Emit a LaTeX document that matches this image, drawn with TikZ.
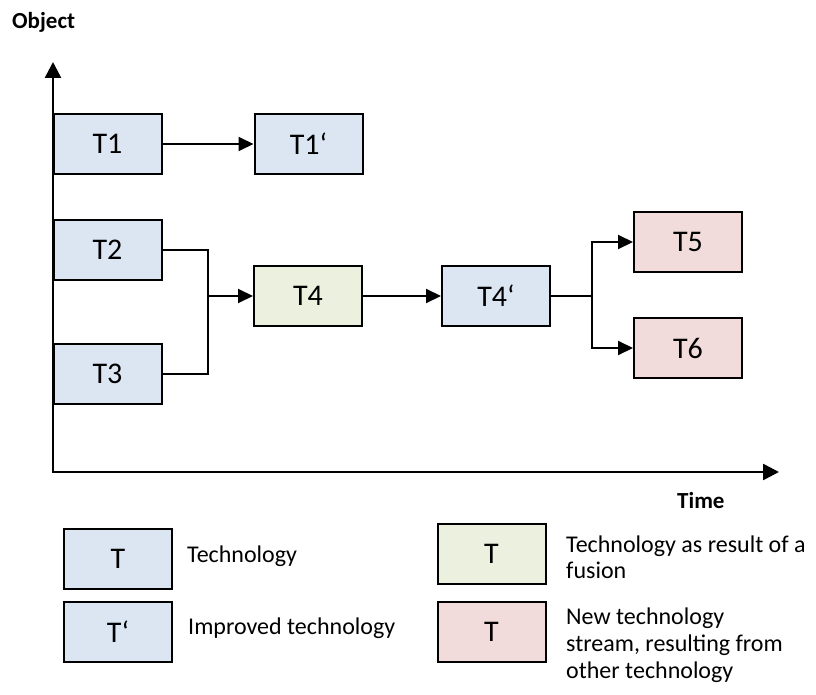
\documentclass[tikz,border=0pt]{standalone}
\usepackage{fontspec}
\setmainfont{Carlito}
\usepackage{tikz}
\usetikzlibrary{positioning,arrows.meta}
\definecolor{techblue}{HTML}{DCE6F2}
\definecolor{fusiongreen}{HTML}{EBF1DE}
\definecolor{newpink}{HTML}{F2DCDB}

\begin{document}
\begin{tikzpicture}[x=1pt,y=-1pt,node distance=100pt,on grid,
    tech/.style={draw,line width=2pt,minimum width=108pt,minimum height=60pt,
        font=\fontsize{30}{34}\selectfont},
    old/.style={tech,fill=techblue},
    fused/.style={tech,fill=fusiongreen},
    spin/.style={tech,fill=newpink},
    link/.style={line width=2pt},
    flow/.style={link,-{Triangle[length=15pt,width=14pt]}},
    axisline/.style={line width=2.5pt,{Triangle[length=16pt,width=16pt]}-{Triangle[length=16pt,width=16pt]}},
    lbl/.style={inner sep=0pt,anchor=base west,align=left,font=\fontsize{24}{26.7}\selectfont},
    axislbl/.style={lbl,font=\bfseries\fontsize{23}{27}\selectfont}]
    \useasboundingbox (0,0) rectangle (816,695);
    \coordinate (origin) at (53,472);
    \coordinate (ytop) at (53,62);
    \coordinate (xend) at (779,472);
    \draw[axisline] (ytop) -- (origin) -- (xend);
    \node[axislbl] (objectlbl) at (12,29) {Object};
    \node[axislbl] (timelbl) at (677,508) {Time};
    \node[old] (t1) at (107.5,144) {T1};
    \node[old] (t1p) [right=201pt of t1] {T1‘};
    \node[old] (t2) [below=106pt of t1] {T2};
    \node[old] (t3) [below=124pt of t2] {T3};
    \node[fused] (t4) at (308,296) {T4};
    \node[old] (t4p) [right=188pt of t4] {T4‘};
    \node[spin] (t5) at (688,242) {T5};
    \node[spin] (t6) [below=106pt of t5] {T6};
    \coordinate (merge) at (208,296);
    \coordinate (split) at (592,296);
    \draw[flow] (t1) -- (t1p);
    \draw[link] (t2.east) -| (merge) |- (t3.east);
    \draw[flow] (merge) -- (t4);
    \draw[flow] (t4) -- (t4p);
    \draw[link] (t4p) -- (split);
    \draw[flow] (split) |- (t5);
    \draw[flow] (split) |- (t6);
    \node[old] (keytech) at (118,559) {T};
    \node[old] (keyimproved) [below=73pt of keytech] {T‘};
    \node[fused] (keyfusion) at (491.5,553.5) {T};
    \node[spin] (keynew) [below=78.5pt of keyfusion] {T};
    \node[lbl] (keytechtxt) at (187,562) {Technology};
    \node[lbl] (keyimprovedtxt) at (188,634) {Improved technology};
    \node[lbl] (keyfusiontxt) at (566,578.7) {Technology as result of a\\fusion};
    \node[lbl] (keynewtxt) at (566,678) {New technology\\stream, resulting from\\other technology};
\end{tikzpicture}
\end{document}
